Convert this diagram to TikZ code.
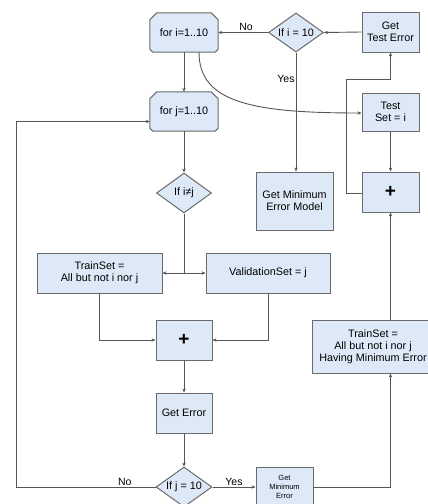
\documentclass[tikz,border=0pt]{standalone}
\usepackage{fontspec}
\setmainfont{Liberation Sans}
\usetikzlibrary{shapes.geometric,arrows.meta,backgrounds}
\definecolor{boxfill}{HTML}{DDE9F7}
\definecolor{boxline}{HTML}{6A6A6A}
\definecolor{conn}{HTML}{555555}
\begin{document}
\begin{tikzpicture}[x=1pt,y=-1pt,
  every node/.style={font=\fontsize{10.8}{11.8}\selectfont, text=black, align=center, inner sep=0pt},
  procbox/.style={draw=boxline, fill=boxfill, line width=1pt, rectangle},
  loopnode/.style={rectangle, minimum width=68pt, minimum height=39pt},
  decide/.style={draw=boxline, fill=boxfill, line width=1pt, diamond, aspect=1.4, minimum width=56pt, minimum height=40pt},
  loopshape/.style={draw=boxline, fill=boxfill, line width=1pt},
  arr/.style={draw=conn, line width=0.9pt, -{Stealth[length=4pt,width=3.4pt]}},
  ln/.style={draw=conn, line width=0.9pt},
  lbl/.style={font=\fontsize{10.5}{11}\selectfont, text=black},
  plus/.style={font=\fontsize{19}{19}\bfseries\selectfont}
]
\useasboundingbox (0,0) rectangle (428,504);

% nodes
\node[loopnode] (fori) at (184,32.5) {for i=1..10};
\node[decide, minimum width=55pt, minimum height=39pt] (ifi) at (296,32.5) {If i = 10};
\node[procbox, minimum width=57pt, minimum height=40pt] (gettest) at (390.5,32) {Get\\Test Error};
\node[loopnode] (forj) at (184,111.5) {for j=1..10};
\node[procbox, minimum width=57pt, minimum height=38pt] (testset) at (390.5,112) {Test\\Set = i};
\node[decide, minimum width=55pt] (ifij) at (184,193) {If i≠j};
\node[procbox, minimum width=77pt, minimum height=58pt] (getminmodel) at (294.5,201) {Get Minimum\\Error Model};
\node[procbox, minimum width=57pt, minimum height=40pt, plus] (plusr) at (390.5,192) {+};
\node[procbox, minimum width=125pt, minimum height=40pt] (trainset) at (99.5,273) {TrainSet =\\All but not i nor j};
\node[procbox, minimum width=124pt, minimum height=40pt] (valset) at (268,273) {ValidationSet = j};
\node[procbox, minimum width=56pt, minimum height=40pt, plus] (plusm) at (184,340) {+};
\node[procbox, minimum width=122pt, minimum height=53pt] (trainmin) at (373,346.5) {TrainSet =\\All but not i nor j\\Having Minimum Error};
\node[procbox, minimum width=56pt, minimum height=40pt] (geterror) at (184,413) {Get Error};
\node[decide] (ifj) at (184,487) {If j = 10};
\node[procbox, minimum width=57pt, minimum height=40pt, font=\fontsize{7.5}{9}\selectfont] (getminerr) at (284.5,487) {Get\\Minimum\\Error};

% loop-limit shapes
\begin{scope}[on background layer]
\foreach \n in {fori,forj}{
  \draw[loopshape] ([xshift=7pt]\n.north west) -- ([xshift=-7pt]\n.north east)
    -- ([yshift=-7pt]\n.north east) -- ([yshift=3pt]\n.south east)
    -- ([xshift=-3pt]\n.south east) -- ([xshift=3pt]\n.south west)
    -- ([yshift=3pt]\n.south west) -- ([yshift=-7pt]\n.north west) -- cycle;
}
\end{scope}

% connectors
\draw[arr] (gettest.west) -- (ifi.east);
\draw[arr] (ifi.west) -- node[lbl, above=1pt, pos=0.44] {No} (fori.east);
\draw[arr] (ifi.south) -- node[lbl, left=1pt, pos=0.22] {Yes} (ifi.south |- getminmodel.north);
\draw[arr] (fori.south) -- (forj.north);
\draw[arr] ([xshift=15pt]fori.south) .. controls +(0,50) and +(-110,0) .. ([yshift=-1pt]testset.west);
\draw[arr] (testset.south) -- (plusr.south |- plusr.north);
\coordinate (lp1) at (346,193);
\coordinate (lp2) at (346,79);
\draw[arr] (plusr.west |- lp1) -- (lp1) -- (lp2) -| (gettest.south);
\draw[arr] (trainmin.north -| plusr.south) -- (plusr.south);
\draw[arr] (getminerr.east) -| (trainmin.south -| plusr.south);
\draw[arr] (forj.south) -- (ifij.north);
\draw[ln] (ifij.south) -- (ifij.south |- trainset.east) coordinate (br);
\draw[arr] (br) -- (trainset.east);
\draw[arr] (br) -- (valset.west);
\draw[arr] (trainset.south) |- (plusm.west);
\draw[arr] (valset.south) |- (plusm.east);
\draw[arr] (plusm.south) -- (geterror.north);
\draw[arr] (geterror.south) -- (ifj.north);
\draw[arr] (ifj.east) -- node[lbl, above=1pt] {Yes} (getminerr.west);
\coordinate (lp3) at (16,487);
\draw[arr] (ifj.west) -- node[lbl, above=1pt, pos=0.22] {No} (lp3) |- ([yshift=-10pt]forj.west);
\end{tikzpicture}
\end{document}
